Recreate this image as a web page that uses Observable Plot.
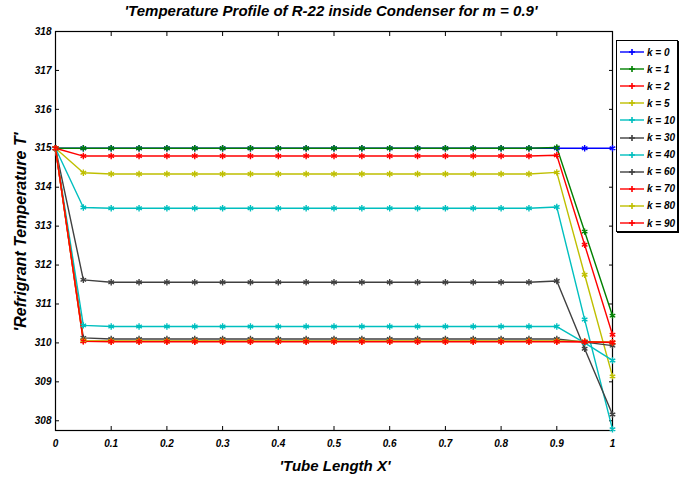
<!DOCTYPE html>
<html><head><meta charset="utf-8">
<script src="https://cdn.jsdelivr.net/npm/d3@7"></script>
<script src="https://cdn.jsdelivr.net/npm/@observablehq/plot@0.6"></script>
<style>
body{margin:0;background:#fff;font-family:"Liberation Sans",Arial,sans-serif;}
#wrap{position:relative;width:686px;height:482px;}
#title{position:absolute;left:0;top:2px;width:662px;text-align:center;font:italic bold 15px "Liberation Sans",Arial,sans-serif;}
#legend{position:absolute;left:616px;top:40px;width:60px;height:190px;border:1px solid #000;background:#fff;box-shadow:1px 1px 0 #000;}
.row{position:absolute;left:3px;height:14px;font:italic bold 10px "Liberation Sans",Arial,sans-serif;display:flex;align-items:center;}
.row span{margin-left:3px;}
</style></head>
<body><div id="wrap"><div id="title">'Temperature Profile of R-22 inside Condenser for m = 0.9'</div><div id="legend"></div></div>
<script>
const xs = [0,0.05,0.1,0.15,0.2,0.25,0.3,0.35,0.4,0.45,0.5,0.55,0.6,0.65,0.7,0.75,0.8,0.85,0.9,0.95,1];
const xTicks = [0,0.1,0.2,0.3,0.4,0.5,0.6,0.7,0.8,0.9,1];
const yTicks = [308,309,310,311,312,313,314,315,316,317,318];
const kLabels = ["k = 0","k = 1","k = 2","k = 5","k = 10","k = 30","k = 40","k = 60","k = 70","k = 80","k = 90"];
const colors = ["#0000ff","#008000","#ff0000","#bfbf00","#00bfbf","#404040","#00bfbf","#404040","#ff0000","#bfbf00","#ff0000"];
const plateau = [315, 315, 314.80, 314.34, 313.46, 311.56, 310.42, 310.10, 310.04, 310.05, 310.03];
const first = [315, 315, 314.80, 314.37, 313.48, 311.62, 310.45, 310.13, 310.05, 310.06, 310.04];
const at090 = [315, 315.02, 314.82, 314.38, 313.49, 311.59, 310.42, 310.10, 310.04, 310.05, 310.03];
const at095 = [315, 312.86, 312.52, 311.75, 310.60, 309.85, 310.00, 310.02, 310.03, 310.04, 310.03];
const at100 = [315, 310.70, 310.21, 309.14, 307.78, 308.16, 309.55, 309.93, 310.02, 310.01, 310.01];

const data = [];
kLabels.forEach((k, i) => {
  xs.forEach((x, j) => {
    let t;
    if (j === 0) t = 315;
    else if (j === 1) t = first[i];
    else if (j === 18) t = at090[i];
    else if (j === 19) t = at095[i];
    else if (j === 20) t = at100[i];
    else t = plateau[i];
    data.push({k, x, t});
  });
});

const font = 'italic bold 10px "Liberation Sans", Arial, sans-serif';
const xfmt = d => d === 0 ? "0" : d === 1 ? "1" : d3.format(".1f")(d);
const chart = Plot.plot({
  width: 686, height: 482,
  marginLeft: 55, marginRight: 74, marginTop: 31, marginBottom: 52,
  style: {font, color: "#000", background: "transparent"},
  x: {domain: [0, 1]},
  y: {domain: [307.75, 318]},
  color: {domain: kLabels, range: colors},
  marks: [
    Plot.frame({stroke: "#000", strokeWidth: 1.2}),
    Plot.axisX({anchor: "bottom", ticks: xTicks, tickSize: 0, tickPadding: 9, tickFormat: xfmt, label: null}),
    Plot.axisX({anchor: "bottom", ticks: xTicks, tickSize: 4, dy: -4, text: null, label: null}),
    Plot.axisX({anchor: "top", ticks: xTicks, tickSize: 4, dy: 4, text: null, label: null}),
    Plot.axisY({anchor: "left", ticks: yTicks, tickSize: 0, tickPadding: 4, label: null}),
    Plot.axisY({anchor: "left", ticks: yTicks, tickSize: 4, dx: 4, text: null, label: null}),
    Plot.axisY({anchor: "right", ticks: yTicks, tickSize: 4, dx: -4, text: null, label: null}),
    Plot.line(data, {x: "x", y: "t", z: "k", stroke: "k", strokeWidth: 1.4}),
    Plot.dot(data, {x: "x", y: "t", stroke: "k", symbol: "asterisk", r: 3, strokeWidth: 1.4})
  ]
});
document.getElementById("wrap").prepend(chart);
chart.style.position = "absolute"; chart.style.left = "0"; chart.style.top = "0";

const svg = d3.select(chart);
svg.append("text").attr("x", 335).attr("y", 471).attr("text-anchor", "middle")
  .style("font", 'italic bold 15px "Liberation Sans", Arial, sans-serif').text("'Tube Length X'");
svg.append("text").attr("transform", "translate(26,232) rotate(-90)").attr("text-anchor", "middle")
  .style("font", 'italic bold 16px "Liberation Sans", Arial, sans-serif').text("'Refrigrant Temperature T'");

const leg = document.getElementById("legend");
kLabels.forEach((k, i) => {
  const r = document.createElement("div");
  r.className = "row";
  r.style.top = (4 + i * 17.1) + "px";
  r.innerHTML = `<svg width="24" height="10"><line x1="0" y1="5" x2="24" y2="5" stroke="${colors[i]}" stroke-width="1.4"/><path d="M12,2V8M9,5H15" stroke="${colors[i]}" stroke-width="1.6"/></svg><span>${k}</span>`;
  leg.appendChild(r);
});
</script></body></html>
